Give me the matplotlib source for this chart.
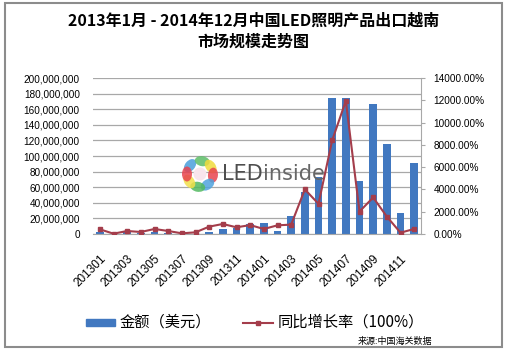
import numpy as np
import matplotlib.pyplot as plt
from matplotlib.patches import Rectangle, Ellipse
from matplotlib.lines import Line2D
from matplotlib.ticker import FuncFormatter, MultipleLocator

plt.rcParams['font.family'] = ['Liberation Sans', 'Noto Sans CJK SC', 'DejaVu Sans']
CJK = ['Noto Sans CJK SC', 'DejaVu Sans']

# 月份 / 出口金额（美元）/ 同比增长率（%）
months = ['201301', '201302', '201303', '201304', '201305', '201306',
          '201307', '201308', '201309', '201310', '201311', '201312',
          '201401', '201402', '201403', '201404', '201405', '201406',
          '201407', '201408', '201409', '201410', '201411', '201412']
amount = [3.0e6, 0.5e6, 2.0e6, 1.0e6, 2.0e6, 1.5e6,
          0.3e6, 0.5e6, 3.0e6, 6.5e6, 7.5e6, 12.5e6,
          13.7e6, 4.0e6, 23e6, 54e6, 73e6, 174e6,
          175e6, 68e6, 167e6, 115e6, 27e6, 91e6]
growth = [420, 30, 270, 180, 450, 270,
          60, 150, 660, 900, 600, 800,
          450, 780, 840, 4000, 2710, 8400,
          11950, 2015, 3280, 1560, 120, 450]

title_lines = ['2013年1月 - 2014年12月中国LED照明产品出口越南', '市场规模走势图']
bar_label = '金额（美元）'
line_label = '同比增长率（100%）'
source = '来源:中国海关数据'

bar_color = '#4178C0'
line_color = '#A43D4B'
grid_color = '#A8A8A8'

W, H = 507, 349
fig = plt.figure(figsize=(W / 100, H / 100), dpi=100)


def fx(px):
    return px / W


def fy(py):
    return 1 - py / H


# 主图区
ax = fig.add_axes([fx(93), fy(234), fx(421) - fx(93), fy(78) - fy(234)])
x = np.arange(len(months))
ax.bar(x, amount, width=0.56, color=bar_color, zorder=2)
ax.set_xlim(-0.5, len(months) - 0.5)
ax.set_ylim(0, 200e6)
ax.yaxis.set_major_locator(MultipleLocator(20e6))
ax.yaxis.set_major_formatter(FuncFormatter(lambda v, p: f'{v:,.0f}'))
ax.grid(axis='y', color=grid_color, lw=0.9)
ax.set_axisbelow(True)
for s in ['top', 'left', 'right']:
    ax.spines[s].set_visible(False)
ax.spines['bottom'].set_color(grid_color)
ax.tick_params(axis='y', length=0, pad=9.5, labelsize=7.2)
ax.set_xticks(x[::2])
ax.set_xticklabels(months[::2], rotation=45, ha='right', va='top',
                   rotation_mode='anchor', fontsize=8.5)
ax.tick_params(axis='x', length=0, pad=13.5)

# 右轴：同比增长率
ax2 = ax.twinx()
ax2.plot(x, growth, color=line_color, lw=1.5, marker='s', ms=3.2, zorder=3)
ax2.set_ylim(0, 14000)
ax2.yaxis.set_major_locator(MultipleLocator(2000))
ax2.yaxis.set_major_formatter(FuncFormatter(lambda v, p: f'{v:.2f}%'))
for s in ['top', 'left', 'bottom']:
    ax2.spines[s].set_visible(False)
ax2.spines['right'].set_color(grid_color)
ax2.tick_params(axis='y', length=3, color=grid_color, pad=6, labelsize=7.2)

# 标题
fig.text(fx(254), fy(20.5), title_lines[0], ha='center', va='center',
         fontsize=11.5, fontweight='bold', family=CJK)
fig.text(fx(253), fy(41.5), title_lines[1], ha='center', va='center',
         fontsize=11.5, fontweight='bold', family=CJK)

# 图例
fig.add_artist(Rectangle((fx(86), fy(326)), fx(115) - fx(86), fy(319) - fy(326),
                         transform=fig.transFigure, color=bar_color))
fig.text(fx(120), fy(322.5), bar_label, ha='left', va='center', fontsize=11, family=CJK)
fig.add_artist(Line2D([fx(243), fx(273)], [fy(322.5), fy(322.5)],
                      transform=fig.transFigure, color=line_color, lw=1.5))
fig.add_artist(Line2D([fx(258)], [fy(322.5)], transform=fig.transFigure,
                      color=line_color, marker='s', ms=3.2))
fig.text(fx(278), fy(322.5), line_label, ha='left', va='center', fontsize=11, family=CJK)
fig.text(fx(358), fy(341), source, ha='left', va='center', fontsize=6.5, family=CJK)

# 水印
logo = fig.add_axes([fx(176), fy(198), 48 / W, 48 / H], zorder=5)
logo.set_xlim(-24, 24)
logo.set_ylim(-24, 24)
logo.axis('off')
petals = [(140, '#4A9FDC'), (80, '#5DBE68'), (35, '#F0DC3C'), (-5, '#E8444F'),
          (-55, '#4FA3DE'), (-100, '#52B960'), (-145, '#F2E04A'), (180, '#E8444F')]
for ang, c in petals:
    t = np.deg2rad(ang)
    logo.add_patch(Ellipse((13 * np.cos(t), 13 * np.sin(t)), 10, 15, angle=ang,
                           color=c, alpha=0.85, lw=0))
logo.add_patch(Ellipse((0, 0), 13, 13, color='#F8E4EC', lw=0))
fig.text(fx(222), fy(174), 'LED', ha='left', va='center', fontsize=15,
         color='#4E4E4E', family='DejaVu Sans', zorder=6)
fig.text(fx(263), fy(174), 'inside', ha='left', va='center', fontsize=15,
         color='#666666', family='DejaVu Sans', zorder=6)

# 外框
fig.add_artist(Rectangle((fx(5), fy(347)), fx(502) - fx(5), fy(3) - fy(347),
                         transform=fig.transFigure, fill=False, ec='#8C8C8C', lw=1.5))

fig.savefig('out.png', dpi=100)
